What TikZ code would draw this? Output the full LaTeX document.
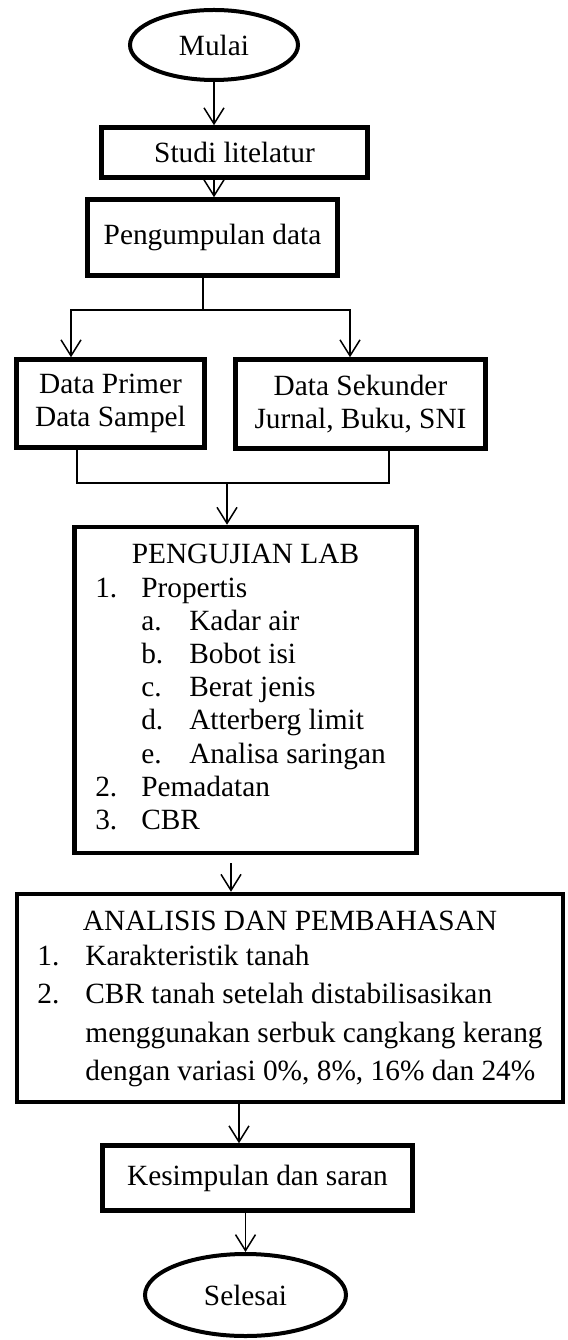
\documentclass[tikz,border=0pt]{standalone}
\usepackage{fontspec}
\setmainfont{Liberation Serif}
\usetikzlibrary{arrows.meta,shapes.geometric}
\tikzset{
  >={Straight Barb[length=3.2mm,width=4mm]},
  {terminal/.style} ={draw,ellipse,line width=0.8mm,inner sep=0},
  {flowbox/.style} ={draw,rectangle,line width=0.9mm,inner sep=0,align=center},
  {flowline/.style} ={line width=0.3mm},
}

\begin{document}
\begin{tikzpicture}[font=\fontsize{16.7}{18.9}\selectfont]
\useasboundingbox (0,0) rectangle (11.34,-26.8);
\node[terminal,minimum width=3.36cm,minimum height=1.4cm] (mulai) at (4.28,-0.9) {Mulai};
\node[flowbox,minimum width=5.32cm,minimum height=1cm] (studi) at (4.69,-3.05) {Studi litelatur};
\node[flowbox,minimum width=5cm,minimum height=1.52cm] (kumpul) at (4.25,-4.75) {Pengumpulan data};
\node[flowbox,minimum width=3.76cm,minimum height=1.76cm] (primer) at (2.21,-8.07) {Data Primer\\Data Sampel};
\node[flowbox,minimum width=5cm,minimum height=1.78cm] (sekunder) at (7.21,-8.08) {Data Sekunder\\Jurnal, Buku, SNI};
\node[flowbox,minimum width=6.84cm,minimum height=6.52cm] (lab) at (4.91,-13.8)
  {\begin{tabular}{@{}p{0.92cm}@{}p{0.96cm}@{}l@{\hspace{0.2cm}}}
   \multicolumn{3}{@{}c@{}}{PENGUJIAN LAB}\\
   1. & \multicolumn{2}{@{}l@{}}{Propertis}\\
      & a. & Kadar air\\
      & b. & Bobot isi\\
      & c. & Berat jenis\\
      & d. & Atterberg limit\\
      & e. & Analisa saringan\\
   2. & \multicolumn{2}{@{}l@{}}{Pemadatan}\\
   3. & \multicolumn{2}{@{}l@{}}{CBR}
   \end{tabular}};
\node[flowbox,minimum width=10.92cm,minimum height=4.16cm] (analisis) at (5.8,-19.96)
  {\fontsize{16.7}{21.9}\selectfont
   \begin{tabular}{@{}p{0.96cm}@{}l@{}}
   \multicolumn{2}{@{}c@{}}{ANALISIS DAN PEMBAHASAN}\\[-0.07cm]
   1. & Karakteristik tanah\\
   2. & CBR tanah setelah distabilisasikan\\
      & menggunakan serbuk cangkang kerang\\
      & dengan variasi 0\%, 8\%, 16\% dan 24\%
   \end{tabular}};
\node[flowbox,minimum width=6.2cm,minimum height=1.3cm] (simpul) at (5.15,-23.56) {Kesimpulan dan saran};
\node[terminal,minimum width=4.02cm,minimum height=1.64cm] (selesai) at (4.91,-25.9) {Selesai};
% branching points
\coordinate (split) at (4.06,-6.2);
\coordinate (merge) at (4.54,-9.66);
\draw[flowline,->] (mulai.south) -- (mulai.south |- studi.north);
\draw[flowline,->] (studi.south -| mulai.south) -- (mulai.south |- kumpul.north);
\draw[flowline] (kumpul.south -| split) -- (split);
\draw[flowline,->] (split) -| ([xshift=-0.79cm]primer.north);
\draw[flowline,->] (split) -| ([xshift=-0.21cm]sekunder.north);
\draw[flowline] ([xshift=-0.67cm]primer.south) |- (merge) -| ([xshift=0.57cm]sekunder.south);
\draw[flowline,->] (merge) -- (merge |- lab.north);
\draw[flowline,->,shorten <=0.16cm] ([xshift=-0.29cm]lab.south) -- ([xshift=-0.29cm]lab.south |- analisis.north);
\draw[flowline,->] ([xshift=-0.37cm]simpul.north |- analisis.south) -- ([xshift=-0.37cm]simpul.north);
\draw[flowline,->] (simpul.south -| selesai.north) -- (selesai.north);
\end{tikzpicture}
\end{document}
